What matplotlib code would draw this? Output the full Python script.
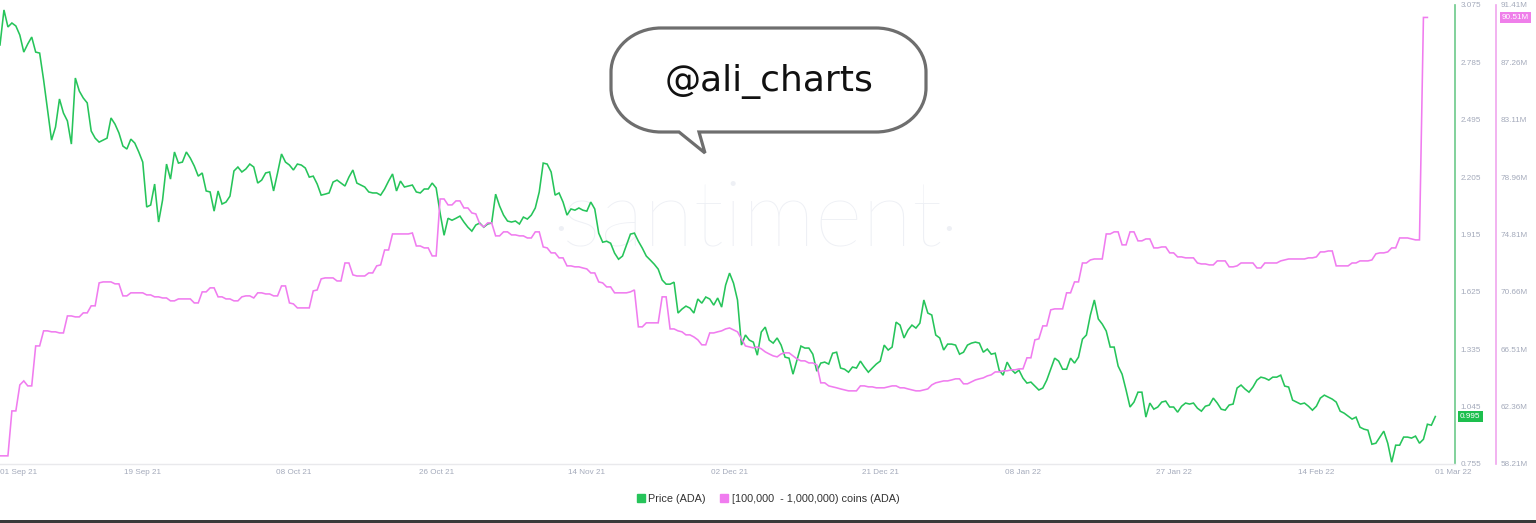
import matplotlib
matplotlib.use("Agg")
import matplotlib.pyplot as plt
import matplotlib.transforms as mtransforms
from matplotlib.path import Path
from matplotlib.patches import PathPatch, Rectangle
from matplotlib.lines import Line2D
import pandas as pd

plt.rcParams['font.family'] = ['Liberation Sans', 'DejaVu Sans']

# ---------------- data (12-hour samples starting 01 Sep 2021) ----------------
start = "2021-09-01"

price = [
    2.873, 3.050, 2.964, 2.984, 2.969, 2.923, 2.837, 2.878, 2.913, 2.837,
    2.832, 2.696, 2.544, 2.392, 2.458, 2.600, 2.529, 2.489, 2.372, 2.706,
    2.640, 2.605, 2.580, 2.438, 2.402, 2.382, 2.392, 2.402, 2.504, 2.473,
    2.428, 2.362, 2.347, 2.397, 2.377, 2.332, 2.281, 2.054, 2.064, 2.170,
    1.978, 2.089, 2.271, 2.195, 2.332, 2.276, 2.281, 2.332, 2.301, 2.261,
    2.210, 2.226, 2.135, 2.130, 2.033, 2.135, 2.069, 2.079, 2.109, 2.236,
    2.256, 2.231, 2.246, 2.271, 2.256, 2.175, 2.190, 2.226, 2.231, 2.135,
    2.226, 2.322, 2.281, 2.266, 2.241, 2.271, 2.266, 2.251, 2.205, 2.210,
    2.170, 2.114, 2.119, 2.125, 2.180, 2.190, 2.175, 2.160, 2.205, 2.241,
    2.175, 2.165, 2.155, 2.130, 2.125, 2.125, 2.114, 2.145, 2.185, 2.221,
    2.135, 2.185, 2.155, 2.160, 2.165, 2.130, 2.125, 2.145, 2.145, 2.175,
    2.150, 2.023, 1.911, 1.997, 1.987, 1.997, 2.008, 1.978, 1.952, 1.932,
    1.963, 1.973, 1.952, 1.968, 1.973, 2.119, 2.059, 2.013, 1.983, 1.978,
    1.983, 1.968, 2.003, 1.993, 2.013, 2.049, 2.130, 2.276, 2.271, 2.231,
    2.114, 2.125, 2.079, 2.013, 2.044, 2.038, 2.049, 2.038, 2.033, 2.079,
    2.044, 1.922, 1.876, 1.881, 1.871, 1.821, 1.790, 1.806, 1.861, 1.917,
    1.922, 1.881, 1.846, 1.806, 1.786, 1.765, 1.740, 1.685, 1.664, 1.664,
    1.674, 1.518, 1.538, 1.553, 1.543, 1.518, 1.589, 1.568, 1.599, 1.589,
    1.558, 1.594, 1.548, 1.659, 1.720, 1.669, 1.584, 1.356, 1.407, 1.381,
    1.371, 1.305, 1.422, 1.447, 1.381, 1.366, 1.392, 1.356, 1.295, 1.290,
    1.209, 1.280, 1.351, 1.341, 1.341, 1.310, 1.224, 1.265, 1.270, 1.260,
    1.315, 1.320, 1.240, 1.234, 1.219, 1.245, 1.240, 1.275, 1.245, 1.219,
    1.240, 1.260, 1.275, 1.356, 1.331, 1.346, 1.472, 1.457, 1.392, 1.432,
    1.457, 1.442, 1.467, 1.584, 1.518, 1.508, 1.407, 1.392, 1.331, 1.361,
    1.361, 1.356, 1.310, 1.320, 1.356, 1.366, 1.371, 1.366, 1.320, 1.336,
    1.310, 1.315, 1.229, 1.204, 1.270, 1.234, 1.214, 1.229, 1.189, 1.164,
    1.169, 1.149, 1.129, 1.139, 1.179, 1.234, 1.290, 1.275, 1.234, 1.234,
    1.290, 1.265, 1.295, 1.386, 1.407, 1.508, 1.584, 1.488, 1.462, 1.427,
    1.346, 1.346, 1.250, 1.209, 1.129, 1.043, 1.068, 1.118, 1.118, 0.992,
    1.063, 1.032, 1.043, 1.068, 1.073, 1.043, 1.043, 1.017, 1.047, 1.063,
    1.058, 1.063, 1.037, 1.022, 1.047, 1.053, 1.088, 1.063, 1.032, 1.027,
    1.053, 1.058, 1.139, 1.154, 1.134, 1.118, 1.144, 1.179, 1.194, 1.189,
    1.179, 1.194, 1.194, 1.204, 1.149, 1.144, 1.078, 1.068, 1.058, 1.063,
    1.047, 1.027, 1.047, 1.088, 1.103, 1.093, 1.083, 1.068, 1.022, 1.012,
    0.997, 0.982, 0.992, 0.941, 0.931, 0.926, 0.855, 0.860, 0.891, 0.921,
    0.860, 0.764, 0.850, 0.850, 0.891, 0.891, 0.886, 0.896, 0.860, 0.880,
    0.956, 0.951, 0.995,
]

# supply held by [100k - 1M) ADA addresses, millions
holders = [
    58.80, 58.80, 58.80, 62.05, 62.05, 63.93, 64.22, 63.86, 63.86, 66.75,
    66.75, 67.84, 67.84, 67.77, 67.77, 67.69, 67.69, 68.92, 68.92, 68.85,
    68.85, 69.14, 69.14, 69.65, 69.65, 71.31, 71.38, 71.38, 71.38, 71.24,
    71.24, 70.37, 70.37, 70.59, 70.59, 70.59, 70.59, 70.44, 70.44, 70.30,
    70.30, 70.22, 70.22, 70.01, 70.01, 70.15, 70.15, 70.15, 70.15, 69.86,
    69.86, 70.66, 70.66, 70.95, 70.95, 70.30, 70.30, 70.15, 70.15, 70.01,
    70.01, 70.30, 70.37, 70.37, 70.22, 70.59, 70.59, 70.51, 70.51, 70.37,
    70.37, 71.09, 71.09, 69.86, 69.79, 69.50, 69.50, 69.50, 69.50, 70.73,
    70.80, 71.60, 71.67, 71.67, 71.67, 71.45, 71.45, 72.75, 72.75, 71.89,
    71.81, 71.81, 71.81, 72.03, 72.03, 72.54, 72.61, 73.69, 73.69, 74.85,
    74.85, 74.85, 74.85, 74.85, 74.92, 73.98, 73.98, 73.84, 73.84, 73.26,
    73.26, 77.38, 77.38, 76.95, 76.95, 77.24, 77.24, 76.73, 76.73, 76.37,
    76.30, 75.58, 75.36, 75.65, 75.65, 74.71, 74.71, 75.00, 75.00, 74.78,
    74.78, 74.71, 74.71, 74.56, 74.56, 75.00, 75.00, 73.91, 73.84, 73.48,
    73.48, 73.12, 73.12, 72.54, 72.54, 72.47, 72.47, 72.39, 72.32, 72.03,
    72.03, 71.38, 71.31, 71.02, 71.02, 70.59, 70.59, 70.59, 70.59, 70.66,
    70.80, 68.13, 68.13, 68.42, 68.42, 68.42, 68.42, 70.30, 70.30, 67.98,
    67.98, 67.84, 67.77, 67.55, 67.55, 67.40, 67.19, 66.83, 66.83, 67.69,
    67.69, 67.77, 67.84, 67.98, 68.05, 67.91, 67.77, 67.26, 66.75, 66.68,
    66.61, 66.68, 66.54, 66.32, 66.17, 66.03, 65.96, 66.17, 66.25, 66.25,
    66.03, 65.81, 65.67, 65.67, 65.52, 65.52, 65.38, 64.08, 64.08, 63.86,
    63.79, 63.72, 63.64, 63.57, 63.50, 63.50, 63.50, 63.86, 63.86, 63.79,
    63.79, 63.72, 63.72, 63.72, 63.79, 63.86, 63.86, 63.72, 63.72, 63.64,
    63.57, 63.50, 63.50, 63.57, 63.64, 63.93, 64.08, 64.15, 64.22, 64.22,
    64.29, 64.37, 64.37, 64.01, 64.01, 64.15, 64.29, 64.37, 64.44, 64.58,
    64.66, 64.87, 64.87, 64.95, 64.95, 65.02, 65.02, 65.09, 65.09, 65.89,
    65.89, 67.19, 67.26, 68.20, 68.20, 69.36, 69.43, 69.43, 69.43, 70.59,
    70.59, 71.38, 71.38, 72.75, 72.75, 72.97, 73.04, 73.04, 73.04, 74.85,
    74.85, 75.00, 75.00, 74.06, 74.06, 75.00, 75.00, 74.35, 74.35, 74.49,
    74.49, 73.84, 73.84, 73.91, 73.91, 73.48, 73.48, 73.19, 73.19, 73.12,
    73.12, 73.12, 72.75, 72.68, 72.68, 72.61, 72.61, 72.90, 72.90, 72.90,
    72.47, 72.47, 72.54, 72.75, 72.75, 72.75, 72.75, 72.39, 72.39, 72.75,
    72.75, 72.75, 72.75, 72.90, 72.97, 73.04, 73.04, 73.04, 73.04, 73.04,
    73.12, 73.12, 73.19, 73.55, 73.55, 73.62, 73.62, 72.54, 72.54, 72.54,
    72.54, 72.75, 72.75, 72.90, 72.90, 72.90, 72.97, 73.41, 73.48, 73.48,
    73.55, 73.84, 73.84, 74.56, 74.56, 74.56, 74.49, 74.42, 74.42, 90.51,
    90.51,
]

price_ticks = [0.755, 1.045, 1.335, 1.625, 1.915, 2.205, 2.495, 2.785, 3.075]
holder_ticks = [58.21, 62.36, 66.51, 70.66, 74.81, 78.96, 83.11, 87.26, 91.41]
xtick_dates = ["2021-09-01", "2021-09-19", "2021-10-08", "2021-10-26", "2021-11-14",
               "2021-12-02", "2021-12-21", "2022-01-08", "2022-01-27", "2022-02-14",
               "2022-03-01"]
xtick_labels = ["01 Sep 21", "19 Sep 21", "08 Oct 21", "26 Oct 21", "14 Nov 21",
                "02 Dec 21", "21 Dec 21", "08 Jan 22", "27 Jan 22", "14 Feb 22",
                "01 Mar 22"]
series_labels = ["Price (ADA)", "[100,000  - 1,000,000) coins (ADA)"]

# ---------------- styling ----------------
GREEN = "#26c45a"
GREEN_AX = "#6cc98a"
PINK = "#f07cef"
PINK_AX = "#f0a6ee"
TICK_C = "#a4aabb"
WM_C = "#eef0f5"

W, H = 1536, 523
fig = plt.figure(figsize=(W / 100, H / 100), dpi=100)
fig.patch.set_facecolor("white")

ax = fig.add_axes([0, 59 / H, 1455 / W, 459 / H])
ax.patch.set_facecolor("white")

t_price = pd.date_range(start, periods=len(price), freq="12h")
t_hold = pd.date_range(start, periods=len(holders), freq="12h")
t0 = pd.Timestamp(start)

ax.plot(t_price, price, color=GREEN, lw=1.15, zorder=3, solid_joinstyle="miter")
ax.set_xlim(t0, t0 + pd.Timedelta(days=183.48))
ax.set_ylim(price_ticks[0], price_ticks[-1])

ax2 = ax.twinx()
ax2.plot(t_hold, holders, color=PINK, lw=1.15, zorder=3, solid_joinstyle="miter")
ax2.set_ylim(holder_ticks[0], holder_ticks[-1])

# price axis on the right (set after twinx, which resets it to the left)
ax.yaxis.tick_right()
ax.yaxis.set_label_position("right")
ax.set_yticks(price_ticks)
ax.set_yticklabels([f"{v:.3f}" for v in price_ticks])
ax.tick_params(axis="y", which="both", left=False, labelleft=False, right=True,
               labelright=True, length=0, pad=4, labelsize=5.9, labelcolor=TICK_C)

ax.set_xticks(pd.to_datetime(xtick_dates))
ax.set_xticklabels(xtick_labels)
ax.tick_params(axis="x", length=0, pad=3.5, labelsize=5.9, labelcolor=TICK_C)
xl = ax.get_xticklabels()
xl[0].set_ha("left")
xl[-1].set_ha("left")

for s in ("left", "top"):
    ax.spines[s].set_visible(False)
ax.spines["bottom"].set_color("#e9e9ec")
ax.spines["bottom"].set_linewidth(1.0)
ax.spines["right"].set_color(GREEN_AX)
ax.spines["right"].set_linewidth(1.2)

# watermark
ax.text(0.517, 0.53, "santiment", transform=ax.transAxes, ha="center",
        va="center", fontsize=66, color=WM_C, family=["Lato", "DejaVu Sans"],
        weight="light", zorder=0)
ax.text(0.385, 0.508, "\u2022", transform=ax.transAxes, ha="center", va="center",
        fontsize=14, color=WM_C, zorder=0)
ax.text(0.652, 0.508, "\u2022", transform=ax.transAxes, ha="center", va="center",
        fontsize=14, color=WM_C, zorder=0)

ax2.set_yticks(holder_ticks)
ax2.set_yticklabels([f"{v:.2f}M" for v in holder_ticks])
ax2.tick_params(axis="y", length=0, pad=3.6, labelsize=5.9, labelcolor=TICK_C)
for s in ("left", "top", "bottom"):
    ax2.spines[s].set_visible(False)
ax2.spines["right"].set_position(("outward", 41 * 0.72))
ax2.spines["right"].set_color(PINK_AX)
ax2.spines["right"].set_linewidth(1.2)

# last-value tags
tr1 = mtransforms.blended_transform_factory(ax.transAxes, ax.transData)
ax2.text(1 + 5 / 1455, price[-1], f"{price[-1]:.3f}", transform=tr1, ha="left",
         va="center", fontsize=5.9, color="white", clip_on=False, zorder=6,
         bbox=dict(boxstyle="square,pad=0.25", fc="#1dbf4e", ec="none"))
tr2 = mtransforms.blended_transform_factory(ax2.transAxes, ax2.transData)
ax2.text(1 + 47 / 1455, holders[-1], f"{holders[-1]:.2f}M", transform=tr2, ha="left",
         va="center", fontsize=5.9, color="white", clip_on=False, zorder=6,
         bbox=dict(boxstyle="square,pad=0.25", fc="#ef7fea", ec="none"))

# legend
handles = [Line2D([], [], marker="s", ls="none", color=GREEN, markersize=5.5),
           Line2D([], [], marker="s", ls="none", color=PINK, markersize=5.5)]
fig.legend(handles, series_labels, loc="center", bbox_to_anchor=(0.5, 1 - 499 / H),
           ncol=2, frameon=False, fontsize=7.8, handletextpad=0.3,
           columnspacing=1.3, handlelength=0.8, labelcolor="#333333")

# overlay (speech bubble + bottom bar) in pixel coordinates
ov = fig.add_axes([0, 0, 1, 1], zorder=10)
ov.set_xlim(0, W)
ov.set_ylim(H, 0)
ov.axis("off")

L, R, T, B = 611, 926, 28, 132
rx, ry = 50, 44
k = 0.5523
verts = [
    (L + rx, T), (R - rx, T),
    (R - rx + k * rx, T), (R, T + ry - k * ry), (R, T + ry),
    (R, B - ry),
    (R, B - ry + k * ry), (R - rx + k * rx, B), (R - rx, B),
    (699, B), (705, 153), (679, B),
    (L + rx, B),
    (L + rx - k * rx, B), (L, B - ry + k * ry), (L, B - ry),
    (L, T + ry),
    (L, T + ry - k * ry), (L + rx - k * rx, T), (L + rx, T),
    (L + rx, T),
]
codes = [Path.MOVETO, Path.LINETO,
         Path.CURVE4, Path.CURVE4, Path.CURVE4,
         Path.LINETO,
         Path.CURVE4, Path.CURVE4, Path.CURVE4,
         Path.LINETO, Path.LINETO, Path.LINETO,
         Path.LINETO,
         Path.CURVE4, Path.CURVE4, Path.CURVE4,
         Path.LINETO,
         Path.CURVE4, Path.CURVE4, Path.CURVE4,
         Path.CLOSEPOLY]
ov.add_patch(PathPatch(Path(verts, codes), fc="white", ec="#6e6e6e", lw=2.3,
                       joinstyle="miter"))
ov.text(769, 91, "@ali_charts", ha="center", va="baseline", fontsize=26,
        color="#111111", family=["DejaVu Sans"])

ov.add_patch(Rectangle((0, 519.5), W, 4, color="#3a3a3a", lw=0))

fig.savefig("out.png", dpi=100)
